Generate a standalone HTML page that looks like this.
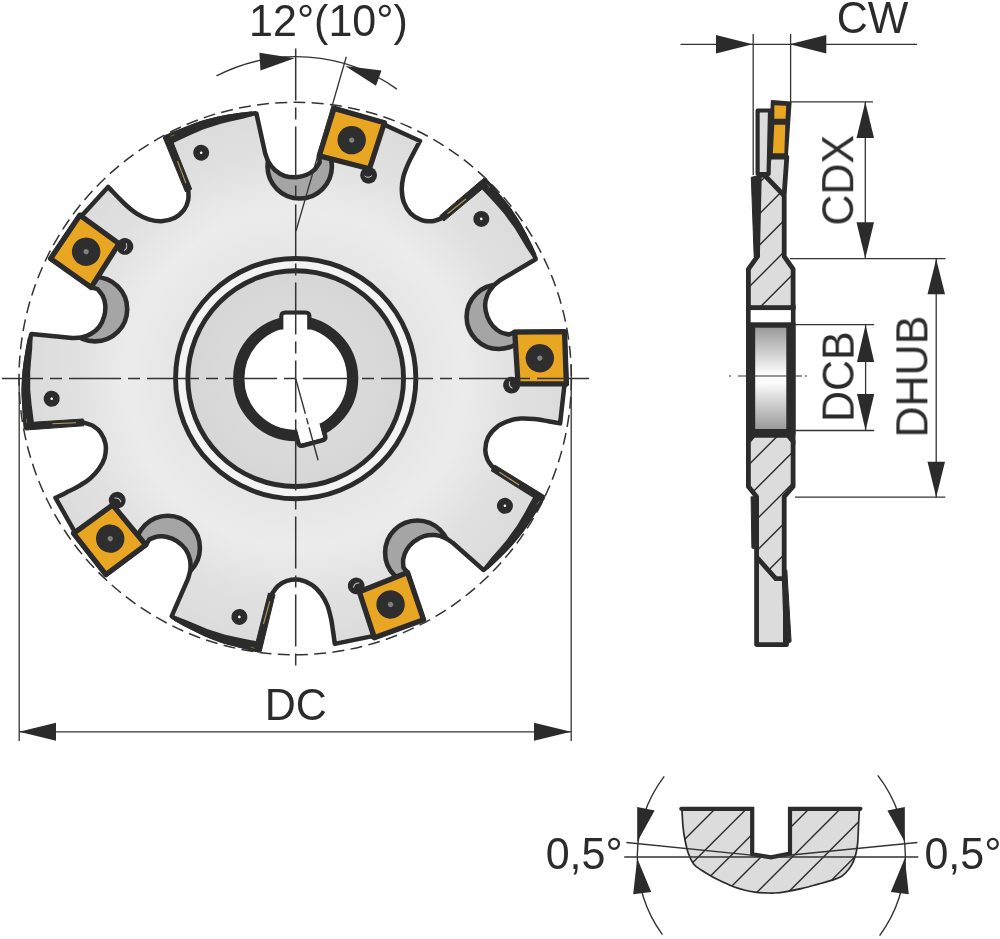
<!DOCTYPE html>
<html><head><meta charset="utf-8"><style>
html,body{margin:0;padding:0;background:#ffffff;}
svg{display:block;}
</style></head><body><svg width="1000" height="939" viewBox="0 0 1000 939">
<defs>
 <radialGradient id="bodyG" gradientUnits="userSpaceOnUse" cx="295.7" cy="378.6" r="280">
  <stop offset="0" stop-color="#e2e2e2"/>
  <stop offset="0.45" stop-color="#e6e6e6"/>
  <stop offset="0.6" stop-color="#ececec"/>
  <stop offset="0.8" stop-color="#e0e0e0"/>
  <stop offset="1" stop-color="#dadada"/>
 </radialGradient>
 <radialGradient id="hubG" gradientUnits="userSpaceOnUse" cx="295.7" cy="378.6" r="108">
  <stop offset="0.5" stop-color="#dbdbdb"/>
  <stop offset="1" stop-color="#d6d6d6"/>
 </radialGradient>
 <linearGradient id="boreG" x1="0" y1="0" x2="0" y2="1">
  <stop offset="0" stop-color="#9a9a9a"/>
  <stop offset="0.45" stop-color="#fafafa"/>
  <stop offset="0.55" stop-color="#fafafa"/>
  <stop offset="1" stop-color="#9a9a9a"/>
 </linearGradient>
 <filter id="gAA" x="-5%" y="-5%" width="110%" height="110%"><feOffset dx="0" dy="0"/></filter>
 <clipPath id="bodyClip"><path d="M256.4,113.6 L265.2,153.5 L265.2,153.5 C265.8,154.9 267.0,159.2 268.6,162.0 C270.2,164.8 272.5,167.9 275.1,170.2 C277.8,172.5 281.0,174.6 284.5,175.8 C288.0,177.0 292.5,177.4 296.2,177.2 C299.9,177.0 303.6,176.1 306.7,174.8 C309.8,173.5 312.5,171.7 314.6,169.6 C316.8,167.5 318.8,163.7 319.6,162.5 L319.6,162.5 L319.2,155.9 L334.0,108.4 L384.4,122.8 L386.0,125.5 L420.0,141.0 L420.0,141.0 C419.0,142.8 416.2,148.0 414.2,151.8 C412.2,155.7 409.8,159.9 408.0,164.1 C406.2,168.3 404.3,172.7 403.3,176.9 C402.3,181.2 401.7,185.4 401.8,189.6 C401.9,193.8 402.3,198.2 403.8,202.2 C405.3,206.2 407.8,210.6 410.8,213.6 C413.8,216.6 418.0,218.9 421.6,220.2 C425.2,221.5 428.9,221.5 432.3,221.2 C435.7,220.9 440.3,218.7 441.9,218.2 L441.9,218.2 L483.0,182.8 L485.2,180.5 L485.2,180.5 C487.6,183.3 495.5,192.7 499.5,197.5 C503.5,202.3 505.8,204.9 509.0,209.5 C512.2,214.1 515.8,219.4 519.0,225.0 C522.2,230.6 525.7,237.4 528.5,243.0 C531.3,248.6 534.4,255.9 535.6,258.5 L535.6,259.3 L500.4,280.0 L500.4,280.0 C499.2,281.0 495.5,283.5 493.3,285.9 C491.2,288.3 488.9,291.4 487.5,294.6 C486.2,297.8 485.1,301.6 485.1,305.3 C485.1,309.0 486.1,313.4 487.4,316.8 C488.7,320.3 490.8,323.6 492.9,326.1 C495.1,328.6 497.7,330.6 500.3,332.0 C502.9,333.4 507.2,334.1 508.6,334.6 L508.6,334.6 L514.8,332.1 L564.5,331.5 L566.4,383.9 L564.3,386.3 L560.1,423.4 L560.1,423.4 C558.1,423.0 552.3,421.9 548.0,421.2 C543.7,420.5 538.9,419.6 534.4,419.1 C529.9,418.7 525.1,418.3 520.8,418.6 C516.4,418.9 512.2,419.7 508.2,421.1 C504.3,422.5 500.2,424.2 496.9,426.9 C493.5,429.6 490.1,433.3 488.2,437.1 C486.3,440.8 485.3,445.6 485.3,449.4 C485.2,453.2 486.2,456.8 487.6,459.9 C489.0,463.0 492.5,466.7 493.4,468.1 L493.4,468.1 L539.8,496.2 L542.7,497.6 L542.7,497.6 C540.7,500.8 534.3,511.2 530.9,516.5 C527.5,521.7 525.8,524.7 522.4,529.2 C519.1,533.7 515.1,538.7 510.8,543.5 C506.5,548.3 501.1,553.7 496.6,558.1 C492.1,562.5 486.1,567.7 484.1,569.6 L483.3,569.9 L452.7,542.8 L452.7,542.8 C451.4,542.0 447.9,539.2 444.9,537.9 C442.0,536.6 438.4,535.4 434.9,535.1 C431.4,534.8 427.5,535.0 424.0,536.1 C420.4,537.2 416.6,539.5 413.7,541.8 C410.8,544.1 408.3,547.1 406.6,549.9 C404.9,552.8 403.8,555.9 403.3,558.8 C402.7,561.7 403.4,566.0 403.4,567.5 L403.4,567.5 L407.6,572.6 L423.5,619.7 L374.3,637.7 L371.4,636.4 L334.8,643.9 L334.8,643.9 C334.5,641.9 333.8,636.0 333.1,631.7 C332.5,627.4 331.9,622.6 330.9,618.1 C329.9,613.7 328.9,609.1 327.2,605.0 C325.5,601.0 323.5,597.2 321.0,593.9 C318.4,590.5 315.5,587.2 311.9,584.9 C308.4,582.5 303.7,580.4 299.6,579.7 C295.4,579.1 290.6,579.7 286.9,580.8 C283.3,581.8 280.2,584.0 277.7,586.2 C275.2,588.5 272.7,593.0 271.7,594.3 L271.7,594.3 L259.3,647.1 L258.8,650.3 L258.8,650.3 C255.2,649.4 243.3,646.5 237.3,644.9 C231.2,643.3 227.9,642.6 222.5,640.8 C217.2,639.0 211.2,636.7 205.3,634.1 C199.4,631.5 192.6,628.0 187.1,625.1 C181.5,622.2 174.7,618.2 172.2,616.8 L171.7,616.1 L188.1,578.6 L188.1,578.6 C188.4,577.2 190.0,573.0 190.3,569.8 C190.6,566.5 190.7,562.7 189.9,559.3 C189.1,555.9 187.7,552.3 185.6,549.3 C183.4,546.2 180.0,543.3 176.9,541.2 C173.8,539.2 170.2,537.8 167.0,537.0 C163.8,536.2 160.5,536.2 157.6,536.6 C154.6,537.0 150.7,538.9 149.3,539.4 L149.3,539.4 L145.8,545.0 L105.9,574.7 L73.6,533.4 L73.9,530.3 L55.5,497.8 L55.5,497.8 C57.3,496.9 62.6,494.4 66.5,492.4 C70.4,490.5 74.8,488.4 78.8,486.1 C82.7,483.8 86.8,481.4 90.1,478.5 C93.4,475.7 96.4,472.6 98.8,469.1 C101.2,465.7 103.4,461.9 104.6,457.8 C105.7,453.7 106.2,448.6 105.6,444.4 C105.0,440.3 102.9,435.9 100.7,432.7 C98.6,429.6 95.6,427.4 92.7,425.6 C89.7,423.9 84.7,423.0 83.1,422.4 L83.1,422.4 L29.1,426.9 L26.0,427.5 L26.0,427.5 C25.7,423.8 24.7,411.6 24.4,405.3 C24.0,399.1 23.7,395.6 23.7,390.0 C23.8,384.4 24.1,378.0 24.8,371.6 C25.4,365.2 26.6,357.6 27.7,351.5 C28.7,345.3 30.5,337.5 31.0,334.8 L31.5,334.1 L72.2,338.0 L72.2,338.0 C73.7,337.9 78.2,338.1 81.3,337.4 C84.5,336.7 88.1,335.6 91.1,333.8 C94.1,332.0 97.2,329.6 99.4,326.6 C101.6,323.6 103.3,319.5 104.3,315.9 C105.3,312.3 105.5,308.5 105.3,305.2 C105.0,301.9 104.1,298.7 102.8,296.0 C101.5,293.4 98.4,290.2 97.6,289.1 L97.6,289.1 L91.2,287.4 L50.6,258.7 L79.8,215.2 L82.9,214.5 L108.1,187.0 L108.1,187.0 C109.6,188.4 113.6,192.7 116.6,195.8 C119.7,198.9 123.0,202.5 126.4,205.5 C129.8,208.5 133.4,211.6 137.1,213.9 C140.8,216.2 144.7,218.1 148.7,219.3 C152.8,220.5 157.1,221.5 161.3,221.3 C165.6,221.1 170.6,220.0 174.3,218.1 C178.1,216.3 181.6,212.9 184.0,209.9 C186.3,206.9 187.5,203.4 188.2,200.0 C188.9,196.7 188.3,191.7 188.3,190.0 L188.3,190.0 L167.4,140.0 L165.9,137.2 L165.9,137.2 C169.3,135.8 180.6,131.1 186.4,128.8 C192.3,126.5 195.4,125.2 200.8,123.5 C206.2,121.8 212.3,120.1 218.6,118.8 C224.9,117.4 232.5,116.2 238.7,115.3 C244.8,114.4 252.8,113.7 255.6,113.3 Z"/></clipPath>
</defs>
<circle cx="295.2" cy="378.5" r="276.2" fill="none" stroke="#333333" stroke-width="1.5" stroke-dasharray="12 6.3"/>
<path d="M256.4,113.6 L265.2,153.5 L265.2,153.5 C265.8,154.9 267.0,159.2 268.6,162.0 C270.2,164.8 272.5,167.9 275.1,170.2 C277.8,172.5 281.0,174.6 284.5,175.8 C288.0,177.0 292.5,177.4 296.2,177.2 C299.9,177.0 303.6,176.1 306.7,174.8 C309.8,173.5 312.5,171.7 314.6,169.6 C316.8,167.5 318.8,163.7 319.6,162.5 L319.6,162.5 L319.2,155.9 L334.0,108.4 L384.4,122.8 L386.0,125.5 L420.0,141.0 L420.0,141.0 C419.0,142.8 416.2,148.0 414.2,151.8 C412.2,155.7 409.8,159.9 408.0,164.1 C406.2,168.3 404.3,172.7 403.3,176.9 C402.3,181.2 401.7,185.4 401.8,189.6 C401.9,193.8 402.3,198.2 403.8,202.2 C405.3,206.2 407.8,210.6 410.8,213.6 C413.8,216.6 418.0,218.9 421.6,220.2 C425.2,221.5 428.9,221.5 432.3,221.2 C435.7,220.9 440.3,218.7 441.9,218.2 L441.9,218.2 L483.0,182.8 L485.2,180.5 L485.2,180.5 C487.6,183.3 495.5,192.7 499.5,197.5 C503.5,202.3 505.8,204.9 509.0,209.5 C512.2,214.1 515.8,219.4 519.0,225.0 C522.2,230.6 525.7,237.4 528.5,243.0 C531.3,248.6 534.4,255.9 535.6,258.5 L535.6,259.3 L500.4,280.0 L500.4,280.0 C499.2,281.0 495.5,283.5 493.3,285.9 C491.2,288.3 488.9,291.4 487.5,294.6 C486.2,297.8 485.1,301.6 485.1,305.3 C485.1,309.0 486.1,313.4 487.4,316.8 C488.7,320.3 490.8,323.6 492.9,326.1 C495.1,328.6 497.7,330.6 500.3,332.0 C502.9,333.4 507.2,334.1 508.6,334.6 L508.6,334.6 L514.8,332.1 L564.5,331.5 L566.4,383.9 L564.3,386.3 L560.1,423.4 L560.1,423.4 C558.1,423.0 552.3,421.9 548.0,421.2 C543.7,420.5 538.9,419.6 534.4,419.1 C529.9,418.7 525.1,418.3 520.8,418.6 C516.4,418.9 512.2,419.7 508.2,421.1 C504.3,422.5 500.2,424.2 496.9,426.9 C493.5,429.6 490.1,433.3 488.2,437.1 C486.3,440.8 485.3,445.6 485.3,449.4 C485.2,453.2 486.2,456.8 487.6,459.9 C489.0,463.0 492.5,466.7 493.4,468.1 L493.4,468.1 L539.8,496.2 L542.7,497.6 L542.7,497.6 C540.7,500.8 534.3,511.2 530.9,516.5 C527.5,521.7 525.8,524.7 522.4,529.2 C519.1,533.7 515.1,538.7 510.8,543.5 C506.5,548.3 501.1,553.7 496.6,558.1 C492.1,562.5 486.1,567.7 484.1,569.6 L483.3,569.9 L452.7,542.8 L452.7,542.8 C451.4,542.0 447.9,539.2 444.9,537.9 C442.0,536.6 438.4,535.4 434.9,535.1 C431.4,534.8 427.5,535.0 424.0,536.1 C420.4,537.2 416.6,539.5 413.7,541.8 C410.8,544.1 408.3,547.1 406.6,549.9 C404.9,552.8 403.8,555.9 403.3,558.8 C402.7,561.7 403.4,566.0 403.4,567.5 L403.4,567.5 L407.6,572.6 L423.5,619.7 L374.3,637.7 L371.4,636.4 L334.8,643.9 L334.8,643.9 C334.5,641.9 333.8,636.0 333.1,631.7 C332.5,627.4 331.9,622.6 330.9,618.1 C329.9,613.7 328.9,609.1 327.2,605.0 C325.5,601.0 323.5,597.2 321.0,593.9 C318.4,590.5 315.5,587.2 311.9,584.9 C308.4,582.5 303.7,580.4 299.6,579.7 C295.4,579.1 290.6,579.7 286.9,580.8 C283.3,581.8 280.2,584.0 277.7,586.2 C275.2,588.5 272.7,593.0 271.7,594.3 L271.7,594.3 L259.3,647.1 L258.8,650.3 L258.8,650.3 C255.2,649.4 243.3,646.5 237.3,644.9 C231.2,643.3 227.9,642.6 222.5,640.8 C217.2,639.0 211.2,636.7 205.3,634.1 C199.4,631.5 192.6,628.0 187.1,625.1 C181.5,622.2 174.7,618.2 172.2,616.8 L171.7,616.1 L188.1,578.6 L188.1,578.6 C188.4,577.2 190.0,573.0 190.3,569.8 C190.6,566.5 190.7,562.7 189.9,559.3 C189.1,555.9 187.7,552.3 185.6,549.3 C183.4,546.2 180.0,543.3 176.9,541.2 C173.8,539.2 170.2,537.8 167.0,537.0 C163.8,536.2 160.5,536.2 157.6,536.6 C154.6,537.0 150.7,538.9 149.3,539.4 L149.3,539.4 L145.8,545.0 L105.9,574.7 L73.6,533.4 L73.9,530.3 L55.5,497.8 L55.5,497.8 C57.3,496.9 62.6,494.4 66.5,492.4 C70.4,490.5 74.8,488.4 78.8,486.1 C82.7,483.8 86.8,481.4 90.1,478.5 C93.4,475.7 96.4,472.6 98.8,469.1 C101.2,465.7 103.4,461.9 104.6,457.8 C105.7,453.7 106.2,448.6 105.6,444.4 C105.0,440.3 102.9,435.9 100.7,432.7 C98.6,429.6 95.6,427.4 92.7,425.6 C89.7,423.9 84.7,423.0 83.1,422.4 L83.1,422.4 L29.1,426.9 L26.0,427.5 L26.0,427.5 C25.7,423.8 24.7,411.6 24.4,405.3 C24.0,399.1 23.7,395.6 23.7,390.0 C23.8,384.4 24.1,378.0 24.8,371.6 C25.4,365.2 26.6,357.6 27.7,351.5 C28.7,345.3 30.5,337.5 31.0,334.8 L31.5,334.1 L72.2,338.0 L72.2,338.0 C73.7,337.9 78.2,338.1 81.3,337.4 C84.5,336.7 88.1,335.6 91.1,333.8 C94.1,332.0 97.2,329.6 99.4,326.6 C101.6,323.6 103.3,319.5 104.3,315.9 C105.3,312.3 105.5,308.5 105.3,305.2 C105.0,301.9 104.1,298.7 102.8,296.0 C101.5,293.4 98.4,290.2 97.6,289.1 L97.6,289.1 L91.2,287.4 L50.6,258.7 L79.8,215.2 L82.9,214.5 L108.1,187.0 L108.1,187.0 C109.6,188.4 113.6,192.7 116.6,195.8 C119.7,198.9 123.0,202.5 126.4,205.5 C129.8,208.5 133.4,211.6 137.1,213.9 C140.8,216.2 144.7,218.1 148.7,219.3 C152.8,220.5 157.1,221.5 161.3,221.3 C165.6,221.1 170.6,220.0 174.3,218.1 C178.1,216.3 181.6,212.9 184.0,209.9 C186.3,206.9 187.5,203.4 188.2,200.0 C188.9,196.7 188.3,191.7 188.3,190.0 L188.3,190.0 L167.4,140.0 L165.9,137.2 L165.9,137.2 C169.3,135.8 180.6,131.1 186.4,128.8 C192.3,126.5 195.4,125.2 200.8,123.5 C206.2,121.8 212.3,120.1 218.6,118.8 C224.9,117.4 232.5,116.2 238.7,115.3 C244.8,114.4 252.8,113.7 255.6,113.3 Z" fill="url(#bodyG)"/>
<g clip-path="url(#bodyClip)"><circle cx="299.7" cy="166.3" r="32.2" fill="#a5a5a5" stroke="#2b2b2b" stroke-width="4.6"/><circle cx="498.8" cy="316.8" r="32.2" fill="#a5a5a5" stroke="#2b2b2b" stroke-width="4.6"/><circle cx="417.3" cy="552.7" r="32.2" fill="#a5a5a5" stroke="#2b2b2b" stroke-width="4.6"/><circle cx="167.7" cy="548.0" r="32.2" fill="#a5a5a5" stroke="#2b2b2b" stroke-width="4.6"/><circle cx="95.0" cy="309.2" r="32.2" fill="#a5a5a5" stroke="#2b2b2b" stroke-width="4.6"/></g>
<path d="M256.4,113.6 L265.2,153.5 L265.2,153.5 C265.8,154.9 267.0,159.2 268.6,162.0 C270.2,164.8 272.5,167.9 275.1,170.2 C277.8,172.5 281.0,174.6 284.5,175.8 C288.0,177.0 292.5,177.4 296.2,177.2 C299.9,177.0 303.6,176.1 306.7,174.8 C309.8,173.5 312.5,171.7 314.6,169.6 C316.8,167.5 318.8,163.7 319.6,162.5 L319.6,162.5 L319.2,155.9 L334.0,108.4 L384.4,122.8 L386.0,125.5 L420.0,141.0 L420.0,141.0 C419.0,142.8 416.2,148.0 414.2,151.8 C412.2,155.7 409.8,159.9 408.0,164.1 C406.2,168.3 404.3,172.7 403.3,176.9 C402.3,181.2 401.7,185.4 401.8,189.6 C401.9,193.8 402.3,198.2 403.8,202.2 C405.3,206.2 407.8,210.6 410.8,213.6 C413.8,216.6 418.0,218.9 421.6,220.2 C425.2,221.5 428.9,221.5 432.3,221.2 C435.7,220.9 440.3,218.7 441.9,218.2 L441.9,218.2 L483.0,182.8 L485.2,180.5 L485.2,180.5 C487.6,183.3 495.5,192.7 499.5,197.5 C503.5,202.3 505.8,204.9 509.0,209.5 C512.2,214.1 515.8,219.4 519.0,225.0 C522.2,230.6 525.7,237.4 528.5,243.0 C531.3,248.6 534.4,255.9 535.6,258.5 L535.6,259.3 L500.4,280.0 L500.4,280.0 C499.2,281.0 495.5,283.5 493.3,285.9 C491.2,288.3 488.9,291.4 487.5,294.6 C486.2,297.8 485.1,301.6 485.1,305.3 C485.1,309.0 486.1,313.4 487.4,316.8 C488.7,320.3 490.8,323.6 492.9,326.1 C495.1,328.6 497.7,330.6 500.3,332.0 C502.9,333.4 507.2,334.1 508.6,334.6 L508.6,334.6 L514.8,332.1 L564.5,331.5 L566.4,383.9 L564.3,386.3 L560.1,423.4 L560.1,423.4 C558.1,423.0 552.3,421.9 548.0,421.2 C543.7,420.5 538.9,419.6 534.4,419.1 C529.9,418.7 525.1,418.3 520.8,418.6 C516.4,418.9 512.2,419.7 508.2,421.1 C504.3,422.5 500.2,424.2 496.9,426.9 C493.5,429.6 490.1,433.3 488.2,437.1 C486.3,440.8 485.3,445.6 485.3,449.4 C485.2,453.2 486.2,456.8 487.6,459.9 C489.0,463.0 492.5,466.7 493.4,468.1 L493.4,468.1 L539.8,496.2 L542.7,497.6 L542.7,497.6 C540.7,500.8 534.3,511.2 530.9,516.5 C527.5,521.7 525.8,524.7 522.4,529.2 C519.1,533.7 515.1,538.7 510.8,543.5 C506.5,548.3 501.1,553.7 496.6,558.1 C492.1,562.5 486.1,567.7 484.1,569.6 L483.3,569.9 L452.7,542.8 L452.7,542.8 C451.4,542.0 447.9,539.2 444.9,537.9 C442.0,536.6 438.4,535.4 434.9,535.1 C431.4,534.8 427.5,535.0 424.0,536.1 C420.4,537.2 416.6,539.5 413.7,541.8 C410.8,544.1 408.3,547.1 406.6,549.9 C404.9,552.8 403.8,555.9 403.3,558.8 C402.7,561.7 403.4,566.0 403.4,567.5 L403.4,567.5 L407.6,572.6 L423.5,619.7 L374.3,637.7 L371.4,636.4 L334.8,643.9 L334.8,643.9 C334.5,641.9 333.8,636.0 333.1,631.7 C332.5,627.4 331.9,622.6 330.9,618.1 C329.9,613.7 328.9,609.1 327.2,605.0 C325.5,601.0 323.5,597.2 321.0,593.9 C318.4,590.5 315.5,587.2 311.9,584.9 C308.4,582.5 303.7,580.4 299.6,579.7 C295.4,579.1 290.6,579.7 286.9,580.8 C283.3,581.8 280.2,584.0 277.7,586.2 C275.2,588.5 272.7,593.0 271.7,594.3 L271.7,594.3 L259.3,647.1 L258.8,650.3 L258.8,650.3 C255.2,649.4 243.3,646.5 237.3,644.9 C231.2,643.3 227.9,642.6 222.5,640.8 C217.2,639.0 211.2,636.7 205.3,634.1 C199.4,631.5 192.6,628.0 187.1,625.1 C181.5,622.2 174.7,618.2 172.2,616.8 L171.7,616.1 L188.1,578.6 L188.1,578.6 C188.4,577.2 190.0,573.0 190.3,569.8 C190.6,566.5 190.7,562.7 189.9,559.3 C189.1,555.9 187.7,552.3 185.6,549.3 C183.4,546.2 180.0,543.3 176.9,541.2 C173.8,539.2 170.2,537.8 167.0,537.0 C163.8,536.2 160.5,536.2 157.6,536.6 C154.6,537.0 150.7,538.9 149.3,539.4 L149.3,539.4 L145.8,545.0 L105.9,574.7 L73.6,533.4 L73.9,530.3 L55.5,497.8 L55.5,497.8 C57.3,496.9 62.6,494.4 66.5,492.4 C70.4,490.5 74.8,488.4 78.8,486.1 C82.7,483.8 86.8,481.4 90.1,478.5 C93.4,475.7 96.4,472.6 98.8,469.1 C101.2,465.7 103.4,461.9 104.6,457.8 C105.7,453.7 106.2,448.6 105.6,444.4 C105.0,440.3 102.9,435.9 100.7,432.7 C98.6,429.6 95.6,427.4 92.7,425.6 C89.7,423.9 84.7,423.0 83.1,422.4 L83.1,422.4 L29.1,426.9 L26.0,427.5 L26.0,427.5 C25.7,423.8 24.7,411.6 24.4,405.3 C24.0,399.1 23.7,395.6 23.7,390.0 C23.8,384.4 24.1,378.0 24.8,371.6 C25.4,365.2 26.6,357.6 27.7,351.5 C28.7,345.3 30.5,337.5 31.0,334.8 L31.5,334.1 L72.2,338.0 L72.2,338.0 C73.7,337.9 78.2,338.1 81.3,337.4 C84.5,336.7 88.1,335.6 91.1,333.8 C94.1,332.0 97.2,329.6 99.4,326.6 C101.6,323.6 103.3,319.5 104.3,315.9 C105.3,312.3 105.5,308.5 105.3,305.2 C105.0,301.9 104.1,298.7 102.8,296.0 C101.5,293.4 98.4,290.2 97.6,289.1 L97.6,289.1 L91.2,287.4 L50.6,258.7 L79.8,215.2 L82.9,214.5 L108.1,187.0 L108.1,187.0 C109.6,188.4 113.6,192.7 116.6,195.8 C119.7,198.9 123.0,202.5 126.4,205.5 C129.8,208.5 133.4,211.6 137.1,213.9 C140.8,216.2 144.7,218.1 148.7,219.3 C152.8,220.5 157.1,221.5 161.3,221.3 C165.6,221.1 170.6,220.0 174.3,218.1 C178.1,216.3 181.6,212.9 184.0,209.9 C186.3,206.9 187.5,203.4 188.2,200.0 C188.9,196.7 188.3,191.7 188.3,190.0 L188.3,190.0 L167.4,140.0 L165.9,137.2 L165.9,137.2 C169.3,135.8 180.6,131.1 186.4,128.8 C192.3,126.5 195.4,125.2 200.8,123.5 C206.2,121.8 212.3,120.1 218.6,118.8 C224.9,117.4 232.5,116.2 238.7,115.3 C244.8,114.4 252.8,113.7 255.6,113.3 Z" fill="none" stroke="#2b2b2b" stroke-width="4.5" stroke-linejoin="round"/>
<g transform="rotate(0 295.7 378.6)"><polygon points="439.6,215.9 483.8,178.3 488.5,183.8 443.9,221.0" fill="#2b2b2b" stroke="#2b2b2b" stroke-width="1" stroke-linejoin="round"/><polygon points="486.8,178.9 493.6,186.9 501.2,196.0 510.8,208.1 520.9,223.7 525.9,232.8 532.0,244.9 536.5,254.5 532.3,256.6 526.5,248.0 519.8,236.7 514.5,228.1 503.9,213.5 494.0,202.3 486.3,194.1 479.3,186.6" fill="#2b2b2b"/><line x1="447.5" y1="213.8" x2="466" y2="199" stroke="#b89a5c" stroke-width="1.1"/><line x1="487.5" y1="184.5" x2="490" y2="188" stroke="#8a7040" stroke-width="0.8"/></g>
<g transform="rotate(72 295.7 378.6)"><polygon points="439.6,215.9 483.8,178.3 488.5,183.8 443.9,221.0" fill="#2b2b2b" stroke="#2b2b2b" stroke-width="1" stroke-linejoin="round"/><polygon points="486.8,178.9 493.6,186.9 501.2,196.0 510.8,208.1 520.9,223.7 525.9,232.8 532.0,244.9 536.5,254.5 532.3,256.6 526.5,248.0 519.8,236.7 514.5,228.1 503.9,213.5 494.0,202.3 486.3,194.1 479.3,186.6" fill="#2b2b2b"/><line x1="447.5" y1="213.8" x2="466" y2="199" stroke="#b89a5c" stroke-width="1.1"/><line x1="487.5" y1="184.5" x2="490" y2="188" stroke="#8a7040" stroke-width="0.8"/></g>
<g transform="rotate(144 295.7 378.6)"><polygon points="439.6,215.9 483.8,178.3 488.5,183.8 443.9,221.0" fill="#2b2b2b" stroke="#2b2b2b" stroke-width="1" stroke-linejoin="round"/><polygon points="486.8,178.9 493.6,186.9 501.2,196.0 510.8,208.1 520.9,223.7 525.9,232.8 532.0,244.9 536.5,254.5 532.3,256.6 526.5,248.0 519.8,236.7 514.5,228.1 503.9,213.5 494.0,202.3 486.3,194.1 479.3,186.6" fill="#2b2b2b"/><line x1="447.5" y1="213.8" x2="466" y2="199" stroke="#b89a5c" stroke-width="1.1"/><line x1="487.5" y1="184.5" x2="490" y2="188" stroke="#8a7040" stroke-width="0.8"/></g>
<g transform="rotate(216 295.7 378.6)"><polygon points="439.6,215.9 483.8,178.3 488.5,183.8 443.9,221.0" fill="#2b2b2b" stroke="#2b2b2b" stroke-width="1" stroke-linejoin="round"/><polygon points="486.8,178.9 493.6,186.9 501.2,196.0 510.8,208.1 520.9,223.7 525.9,232.8 532.0,244.9 536.5,254.5 532.3,256.6 526.5,248.0 519.8,236.7 514.5,228.1 503.9,213.5 494.0,202.3 486.3,194.1 479.3,186.6" fill="#2b2b2b"/><line x1="447.5" y1="213.8" x2="466" y2="199" stroke="#b89a5c" stroke-width="1.1"/><line x1="487.5" y1="184.5" x2="490" y2="188" stroke="#8a7040" stroke-width="0.8"/></g>
<g transform="rotate(288 295.7 378.6)"><polygon points="439.6,215.9 483.8,178.3 488.5,183.8 443.9,221.0" fill="#2b2b2b" stroke="#2b2b2b" stroke-width="1" stroke-linejoin="round"/><polygon points="486.8,178.9 493.6,186.9 501.2,196.0 510.8,208.1 520.9,223.7 525.9,232.8 532.0,244.9 536.5,254.5 532.3,256.6 526.5,248.0 519.8,236.7 514.5,228.1 503.9,213.5 494.0,202.3 486.3,194.1 479.3,186.6" fill="#2b2b2b"/><line x1="447.5" y1="213.8" x2="466" y2="199" stroke="#b89a5c" stroke-width="1.1"/><line x1="487.5" y1="184.5" x2="490" y2="188" stroke="#8a7040" stroke-width="0.8"/></g>
<g transform="rotate(0 295.7 378.6)"><polygon points="334.0,108.4 384.4,122.8 369.5,168.8 319.2,155.9" fill="#e9a623" stroke="#2b2b2b" stroke-width="5.3" stroke-linejoin="round"/><circle cx="351.7" cy="140.1" r="14.2" fill="#2e2e2e"/><circle cx="351.7" cy="140.1" r="2.6" fill="#808080"/><circle cx="368.6" cy="175.3" r="8.4" fill="#2b2b2b"/><path d="M364.5,175.8 Q368,179 372,175.5" fill="none" stroke="#c8c8c8" stroke-width="1"/><circle cx="481.3" cy="218.9" r="8" fill="#2b2b2b"/><circle cx="481.3" cy="218.9" r="1.3" fill="#ffffff"/></g>
<g transform="rotate(72 295.7 378.6)"><polygon points="334.0,108.4 384.4,122.8 369.5,168.8 319.2,155.9" fill="#e9a623" stroke="#2b2b2b" stroke-width="5.3" stroke-linejoin="round"/><circle cx="351.7" cy="140.1" r="14.2" fill="#2e2e2e"/><circle cx="351.7" cy="140.1" r="2.6" fill="#808080"/><circle cx="368.6" cy="175.3" r="8.4" fill="#2b2b2b"/><path d="M364.5,175.8 Q368,179 372,175.5" fill="none" stroke="#c8c8c8" stroke-width="1"/><circle cx="481.3" cy="218.9" r="8" fill="#2b2b2b"/><circle cx="481.3" cy="218.9" r="1.3" fill="#ffffff"/></g>
<g transform="rotate(144 295.7 378.6)"><polygon points="334.0,108.4 384.4,122.8 369.5,168.8 319.2,155.9" fill="#e9a623" stroke="#2b2b2b" stroke-width="5.3" stroke-linejoin="round"/><circle cx="351.7" cy="140.1" r="14.2" fill="#2e2e2e"/><circle cx="351.7" cy="140.1" r="2.6" fill="#808080"/><circle cx="368.6" cy="175.3" r="8.4" fill="#2b2b2b"/><path d="M364.5,175.8 Q368,179 372,175.5" fill="none" stroke="#c8c8c8" stroke-width="1"/><circle cx="481.3" cy="218.9" r="8" fill="#2b2b2b"/><circle cx="481.3" cy="218.9" r="1.3" fill="#ffffff"/></g>
<g transform="rotate(216 295.7 378.6)"><polygon points="334.0,108.4 384.4,122.8 369.5,168.8 319.2,155.9" fill="#e9a623" stroke="#2b2b2b" stroke-width="5.3" stroke-linejoin="round"/><circle cx="351.7" cy="140.1" r="14.2" fill="#2e2e2e"/><circle cx="351.7" cy="140.1" r="2.6" fill="#808080"/><circle cx="368.6" cy="175.3" r="8.4" fill="#2b2b2b"/><path d="M364.5,175.8 Q368,179 372,175.5" fill="none" stroke="#c8c8c8" stroke-width="1"/><circle cx="481.3" cy="218.9" r="8" fill="#2b2b2b"/><circle cx="481.3" cy="218.9" r="1.3" fill="#ffffff"/></g>
<g transform="rotate(288 295.7 378.6)"><polygon points="334.0,108.4 384.4,122.8 369.5,168.8 319.2,155.9" fill="#e9a623" stroke="#2b2b2b" stroke-width="5.3" stroke-linejoin="round"/><circle cx="351.7" cy="140.1" r="14.2" fill="#2e2e2e"/><circle cx="351.7" cy="140.1" r="2.6" fill="#808080"/><circle cx="368.6" cy="175.3" r="8.4" fill="#2b2b2b"/><path d="M364.5,175.8 Q368,179 372,175.5" fill="none" stroke="#c8c8c8" stroke-width="1"/><circle cx="481.3" cy="218.9" r="8" fill="#2b2b2b"/><circle cx="481.3" cy="218.9" r="1.3" fill="#ffffff"/></g>
<circle cx="295.7" cy="378.6" r="120.15" fill="#f3f3f3" stroke="#2b2b2b" stroke-width="4.9"/>
<circle cx="295.7" cy="378.6" r="107.85" fill="url(#hubG)" stroke="#2b2b2b" stroke-width="4.9"/>
<circle cx="295.7" cy="378.6" r="56.95" fill="#ffffff" stroke="#2b2b2b" stroke-width="11.3"/>
<path d="M281.4,329.5 L281.4,316.4 Q281.4,312.6 285.2,312.6 L305.4,312.6 Q309.3,312.6 309.3,316.4 L309.3,329.5" fill="#ffffff" stroke="#2b2b2b" stroke-width="4.4"/>
<rect x="283.6" y="314.8" width="23.5" height="22" fill="#ffffff"/>
<g transform="rotate(-15 295.7 378.6)"><path d="M281.6,428 L281.6,441.2 Q281.6,445 285.4,445 L305.4,445 Q309.2,445 309.2,441.2 L309.2,428" fill="#ffffff" stroke="#2b2b2b" stroke-width="4.8"/><rect x="284" y="420" width="22.8" height="22.6" fill="#ffffff"/></g>
<line x1="2" y1="378.6" x2="589.6" y2="378.6" stroke="#333333" stroke-width="1.5" stroke-dasharray="52 7 12 7" stroke-dashoffset="11"/>
<line x1="295.7" y1="48.5" x2="295.7" y2="672" stroke="#333333" stroke-width="1.5" stroke-dasharray="52 7 12 7"/>
<line x1="296" y1="231" x2="346.3" y2="56.8" stroke="#333333" stroke-width="1.3"/>
<line x1="295.7" y1="378.6" x2="318.1" y2="460.3" stroke="#333333" stroke-width="1.4" stroke-dasharray="36.5 4.5 6.5 3 100"/>
<path d="M216.5,75.9 A173.5,173.5 0 0 1 396.9,89.1" fill="none" stroke="#333333" stroke-width="1.4"/>
<polygon points="294.6,58.3 259.4,52.8 260.5,70.4" fill="#2b2b2b"/>
<polygon points="345.2,66 381.5,70.4 376,85.8" fill="#2b2b2b"/>
<line x1="19.2" y1="378.3" x2="19.2" y2="741" stroke="#333333" stroke-width="1.3"/>
<line x1="571.2" y1="364.7" x2="571.2" y2="741" stroke="#333333" stroke-width="1.3"/>
<line x1="19.2" y1="731.8" x2="571" y2="731.8" stroke="#333333" stroke-width="1.3"/>
<polygon points="19.2,731.8 56,722.8 56,740.8" fill="#2b2b2b"/>
<polygon points="571,731.8 534,722.8 534,740.8" fill="#2b2b2b"/>
<text transform="translate(249.1,36.4) scale(1,1.042)" font-size="43" font-family="&quot;Liberation Sans&quot;, sans-serif" fill="#2b2b2b" filter="url(#gAA)">12°(10°)</text>
<text transform="translate(264.7,720.4) scale(1,1.042)" font-size="43" font-family="&quot;Liberation Sans&quot;, sans-serif" fill="#2b2b2b" filter="url(#gAA)">DC</text>
<line x1="680.5" y1="44.3" x2="917" y2="44.3" stroke="#333333" stroke-width="1.3"/>
<polygon points="752.7,44.3 716,35 716,53.6" fill="#2b2b2b"/>
<polygon points="789.6,44.3 826.3,35 826.3,53.6" fill="#2b2b2b"/>
<line x1="753.2" y1="34" x2="753.2" y2="175" stroke="#333333" stroke-width="1.3"/>
<line x1="790.6" y1="34" x2="790.6" y2="102" stroke="#333333" stroke-width="1.3"/>
<text transform="translate(836.8,33.2) scale(1,1.042)" font-size="43" font-family="&quot;Liberation Sans&quot;, sans-serif" fill="#2b2b2b" filter="url(#gAA)">CW</text>
<line x1="790.6" y1="101.9" x2="873" y2="101.9" stroke="#333333" stroke-width="1.3"/>
<line x1="790" y1="258.6" x2="945.5" y2="258.6" stroke="#333333" stroke-width="1.3"/>
<line x1="865.3" y1="101.9" x2="865.3" y2="258.6" stroke="#333333" stroke-width="1.3"/>
<polygon points="865.3,101.9 856.5,137.9 874,137.9" fill="#2b2b2b"/>
<polygon points="865.3,258.6 856.5,222.2 874,222.2" fill="#2b2b2b"/>
<text transform="translate(853.2,225.6) rotate(-90) scale(1,1.042)" font-size="43" font-family="&quot;Liberation Sans&quot;, sans-serif" fill="#2b2b2b" filter="url(#gAA)">CDX</text>
<line x1="795" y1="324.7" x2="874.2" y2="324.7" stroke="#333333" stroke-width="1.3"/>
<line x1="795" y1="430.5" x2="874.2" y2="430.5" stroke="#333333" stroke-width="1.3"/>
<line x1="865.6" y1="324.7" x2="865.6" y2="430.5" stroke="#333333" stroke-width="1.3"/>
<polygon points="865.6,324.7 857,362 874.2,362" fill="#2b2b2b"/>
<polygon points="865.6,430.5 857,394 874.2,394" fill="#2b2b2b"/>
<text transform="translate(853.6,422) rotate(-90) scale(1,1.042)" font-size="43" font-family="&quot;Liberation Sans&quot;, sans-serif" fill="#2b2b2b" filter="url(#gAA)">DCB</text>
<line x1="795" y1="497.2" x2="945.3" y2="497.2" stroke="#333333" stroke-width="1.3"/>
<line x1="936.2" y1="258.9" x2="936.2" y2="497.2" stroke="#333333" stroke-width="1.3"/>
<polygon points="936.2,258.9 927.5,294.3 945,294.3" fill="#2b2b2b"/>
<polygon points="936.2,497.2 927.5,461.8 945,461.8" fill="#2b2b2b"/>
<text transform="translate(927.4,437.5) rotate(-90) scale(1,1.042)" font-size="43" font-family="&quot;Liberation Sans&quot;, sans-serif" fill="#2b2b2b" filter="url(#gAA)">DHUB</text>
<defs><clipPath id="hsTop"><polygon points="763.8,174.4 783.0,194.5 784.2,256.4 793.1,269.1 793.1,307.8 748.4,307.8 748.4,269.1 757.5,256.4 759.3,176.0"/></clipPath><clipPath id="hsBot"><polygon points="748.4,441.5 753.5,435.3 788.0,435.3 793.1,441.5 793.1,486.5 784.2,496.7 784.2,580.3 775.8,578.6 756.2,558.1 756.6,496.7 748.4,486.5"/></clipPath></defs>
<polygon points="769.5,157.1 786.8,157.1 784.2,194.5 784.2,256.4 793.1,269.1 793.1,307.8 748.4,307.8 748.4,269.1 757.5,256.4 759.3,176.0 765.5,174.4" fill="#dcdcdc" stroke="#2b2b2b" stroke-width="4.8" stroke-linejoin="round" />
<g clip-path="url(#hsTop)" stroke="#2b2b2b" stroke-width="1.4"><line x1="-120.6" y1="1000" x2="879.4" y2="0"/><line x1="-89.3" y1="1000" x2="910.7" y2="0"/><line x1="-58.0" y1="1000" x2="942.0" y2="0"/><line x1="-26.7" y1="1000" x2="973.3" y2="0"/><line x1="4.6" y1="1000" x2="1004.6" y2="0"/><line x1="35.9" y1="1000" x2="1035.9" y2="0"/><line x1="67.2" y1="1000" x2="1067.2" y2="0"/><line x1="98.5" y1="1000" x2="1098.5" y2="0"/><line x1="129.8" y1="1000" x2="1129.8" y2="0"/><line x1="161.1" y1="1000" x2="1161.1" y2="0"/><line x1="192.4" y1="1000" x2="1192.4" y2="0"/><line x1="223.7" y1="1000" x2="1223.7" y2="0"/><line x1="255.0" y1="1000" x2="1255.0" y2="0"/><line x1="286.3" y1="1000" x2="1286.3" y2="0"/></g>
<polygon points="757.6,110.5 770.0,110.5 768.6,174.0 757.6,174.0" fill="#dcdcdc" stroke="#2b2b2b" stroke-width="4.2" stroke-linejoin="round" />
<polygon points="771.8,101.1 790.6,102.5 786.8,157.1 769.5,156.2" fill="#2b2b2b" stroke="#2b2b2b" stroke-width="2" stroke-linejoin="round" />
<polygon points="774.3,105.3 786.2,105.8 785.6,118.8 774.3,118.8" fill="#e9a623" stroke="none" stroke-width="0" stroke-linejoin="round" />
<polygon points="774.3,124.8 785.3,124.8 784.4,153.3 772.8,153.3" fill="#e9a623" stroke="none" stroke-width="0" stroke-linejoin="round" />
<polyline points="765.5,174.4 763.8,174.4 783.5,195" fill="none" stroke="#2b2b2b" stroke-width="4.8"/>
<polygon points="751.3,177.3 759.5,175.5 759.5,257.0 754.2,257.0" fill="#2b2b2b" stroke="#2b2b2b" stroke-width="1" stroke-linejoin="round" />
<rect x="746" y="305.4" width="49.5" height="4.8" fill="#2b2b2b"/>
<rect x="746" y="305.4" width="4.8" height="130" fill="#2b2b2b"/>
<rect x="790.7" y="305.4" width="4.8" height="130" fill="#2b2b2b"/>
<rect x="750.8" y="310.2" width="39.9" height="12.1" fill="#ffffff"/>
<rect x="746" y="322.3" width="49.5" height="122" fill="#2b2b2b"/>
<rect x="755.2" y="327.7" width="31.1" height="101.3" fill="url(#boreG)"/>
<polygon points="748.4,441.5 753.5,435.3 788.0,435.3 793.1,441.5 793.1,486.5 784.2,496.7 784.2,578.6 786.5,644.6 756.6,644.6 756.6,496.7 748.4,486.5" fill="#dcdcdc" stroke="#2b2b2b" stroke-width="4.8" stroke-linejoin="round" />
<g clip-path="url(#hsBot)" stroke="#2b2b2b" stroke-width="1.4"><line x1="150.9" y1="1000" x2="1150.9" y2="0"/><line x1="182.2" y1="1000" x2="1182.2" y2="0"/><line x1="213.5" y1="1000" x2="1213.5" y2="0"/><line x1="244.8" y1="1000" x2="1244.8" y2="0"/><line x1="276.1" y1="1000" x2="1276.1" y2="0"/><line x1="307.4" y1="1000" x2="1307.4" y2="0"/><line x1="338.7" y1="1000" x2="1338.7" y2="0"/><line x1="370.0" y1="1000" x2="1370.0" y2="0"/><line x1="401.3" y1="1000" x2="1401.3" y2="0"/><line x1="432.6" y1="1000" x2="1432.6" y2="0"/><line x1="463.9" y1="1000" x2="1463.9" y2="0"/><line x1="495.2" y1="1000" x2="1495.2" y2="0"/><line x1="526.5" y1="1000" x2="1526.5" y2="0"/><line x1="557.8" y1="1000" x2="1557.8" y2="0"/></g>
<line x1="729" y1="376" x2="809" y2="376" stroke="#333333" stroke-width="1.2" stroke-dasharray="2 7 9 3 40 3 9 3"/>
<polyline points="756.2,556.5 775.8,578.6 784.3,578.6" fill="none" stroke="#2b2b2b" stroke-width="4.8" stroke-linejoin="miter"/>
<polygon points="751.1,496.8 757.0,496.8 757.0,549.6 751.9,547.9" fill="#2b2b2b" stroke="#2b2b2b" stroke-width="1" stroke-linejoin="round" />
<polygon points="783.5,570.0 786.8,570.0 791.1,641.6 786.5,644.6 783.5,644.6" fill="#2b2b2b" stroke="#2b2b2b" stroke-width="1" stroke-linejoin="round" />
<defs><clipPath id="hsSec"><path d="M681.9,809.2 C682.1,812.1 682.5,821.4 683.0,826.6 C683.5,831.8 684.2,836.1 685.1,840.5 C686.0,844.9 686.9,849.3 688.3,853.2 C689.7,857.1 691.4,861.0 693.6,863.9 C695.8,866.8 698.5,868.2 701.6,870.3 C704.7,872.4 708.8,874.8 712.3,876.7 C715.8,878.7 719.3,880.3 722.9,882.0 C726.5,883.7 730.0,885.5 733.6,886.8 C737.2,888.1 740.7,889.1 744.2,890.0 C747.8,890.9 751.4,891.6 754.9,892.1 C758.4,892.6 762.1,892.8 765.5,892.9 C768.9,893.0 771.5,893.2 775.0,893.0 C778.5,892.8 781.8,892.4 786.3,891.6 C790.8,890.8 797.0,889.6 802.3,888.4 C807.6,887.1 813.1,885.5 818.2,884.1 C823.4,882.7 829.3,881.2 833.2,879.9 C837.1,878.6 839.1,877.9 841.7,876.2 C844.3,874.5 846.7,871.9 848.6,869.5 C850.5,867.1 852.0,864.5 853.2,861.8 C854.4,859.1 855.2,856.4 856.0,853.2 C856.8,850.0 857.2,847.9 857.7,842.6 C858.2,837.3 858.4,826.9 858.7,821.3 C859.0,815.7 859.3,811.2 859.4,809.2 L790,809.2 L790,853.4 L771,857.2 L752.2,854.3 L752.2,809.2 Z"/></clipPath></defs>
<path d="M681.9,809.2 C682.1,812.1 682.5,821.4 683.0,826.6 C683.5,831.8 684.2,836.1 685.1,840.5 C686.0,844.9 686.9,849.3 688.3,853.2 C689.7,857.1 691.4,861.0 693.6,863.9 C695.8,866.8 698.5,868.2 701.6,870.3 C704.7,872.4 708.8,874.8 712.3,876.7 C715.8,878.7 719.3,880.3 722.9,882.0 C726.5,883.7 730.0,885.5 733.6,886.8 C737.2,888.1 740.7,889.1 744.2,890.0 C747.8,890.9 751.4,891.6 754.9,892.1 C758.4,892.6 762.1,892.8 765.5,892.9 C768.9,893.0 771.5,893.2 775.0,893.0 C778.5,892.8 781.8,892.4 786.3,891.6 C790.8,890.8 797.0,889.6 802.3,888.4 C807.6,887.1 813.1,885.5 818.2,884.1 C823.4,882.7 829.3,881.2 833.2,879.9 C837.1,878.6 839.1,877.9 841.7,876.2 C844.3,874.5 846.7,871.9 848.6,869.5 C850.5,867.1 852.0,864.5 853.2,861.8 C854.4,859.1 855.2,856.4 856.0,853.2 C856.8,850.0 857.2,847.9 857.7,842.6 C858.2,837.3 858.4,826.9 858.7,821.3 C859.0,815.7 859.3,811.2 859.4,809.2 L790,809.2 L790,853.4 L771,857.2 L752.2,854.3 L752.2,809.2 Z" fill="#dcdcdc" stroke="#2b2b2b" stroke-width="1.7" stroke-linejoin="round"/>
<g clip-path="url(#hsSec)" stroke="#2b2b2b" stroke-width="1.4"><line x1="398.8" y1="1000" x2="1398.8" y2="0"/><line x1="430.1" y1="1000" x2="1430.1" y2="0"/><line x1="461.4" y1="1000" x2="1461.4" y2="0"/><line x1="492.7" y1="1000" x2="1492.7" y2="0"/><line x1="524.0" y1="1000" x2="1524.0" y2="0"/><line x1="555.3" y1="1000" x2="1555.3" y2="0"/><line x1="586.6" y1="1000" x2="1586.6" y2="0"/><line x1="617.9" y1="1000" x2="1617.9" y2="0"/><line x1="649.2" y1="1000" x2="1649.2" y2="0"/><line x1="680.5" y1="1000" x2="1680.5" y2="0"/><line x1="711.8" y1="1000" x2="1711.8" y2="0"/><line x1="743.1" y1="1000" x2="1743.1" y2="0"/><line x1="774.4" y1="1000" x2="1774.4" y2="0"/><line x1="805.7" y1="1000" x2="1805.7" y2="0"/></g>
<polyline points="681.3,808.8 752.2,808.8 752.2,854.3 771,857.4 790,853.6 790,808.8 860.4,808.8" fill="none" stroke="#2b2b2b" stroke-width="4.2" stroke-linecap="round"/>
<line x1="624.2" y1="857" x2="918.3" y2="857" stroke="#333333" stroke-width="1.3"/>
<polyline points="626.4,842.5 771,857 917.4,842.5" fill="none" stroke="#333333" stroke-width="1.3"/>
<path d="M664.2,776.3 A133.7,133.7 0 0 0 662.4,934.7" fill="none" stroke="#333333" stroke-width="1.4"/>
<path d="M877.8,775.4 A133.7,133.7 0 0 1 879.6,935.6" fill="none" stroke="#333333" stroke-width="1.4"/>
<polygon points="637.2,842 637.2,806.9 654.6,810.5" fill="#2b2b2b"/>
<polygon points="637.2,858.2 633.2,894.2 651.2,892" fill="#2b2b2b"/>
<polygon points="904.8,842 904.8,806.9 887.4,810.5" fill="#2b2b2b"/>
<polygon points="904.8,858.2 908.8,894.2 890.8,892" fill="#2b2b2b"/>
<text transform="translate(545.7,869.2) scale(1,1.042)" font-size="43" font-family="&quot;Liberation Sans&quot;, sans-serif" fill="#2b2b2b" filter="url(#gAA)">0,5°</text>
<text transform="translate(924.4,869.2) scale(1,1.042)" font-size="43" font-family="&quot;Liberation Sans&quot;, sans-serif" fill="#2b2b2b" filter="url(#gAA)">0,5°</text></svg></body></html>
